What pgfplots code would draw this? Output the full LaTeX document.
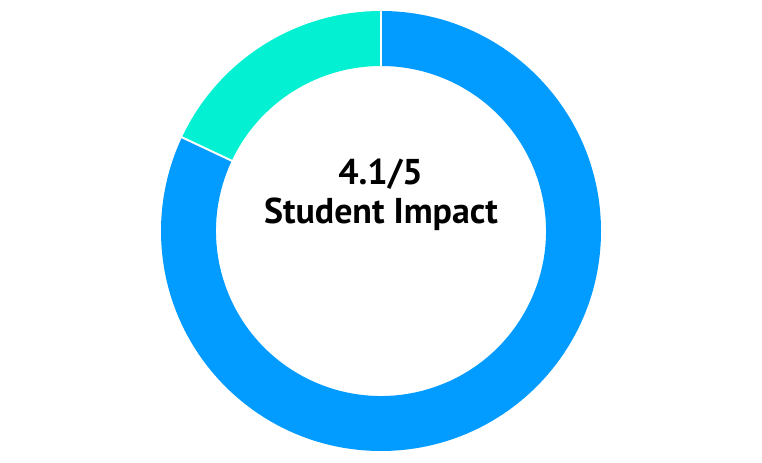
\documentclass[border=0pt]{standalone}
\usepackage{pgfplots}
\pgfplotsset{compat=1.18}
\usepackage{pgfplotstable}
\usepackage{fontspec}
\setmainfont{PT Sans}
\usetikzlibrary{calc}

\definecolor{ringblue}{RGB}{2,155,255}
\definecolor{ringteal}{RGB}{3,240,210}

% score out of 5: impact, remainder
\pgfplotstableread{
part value
Impact 4.1
Rest 0.9
}\ratings

\begin{document}
\begin{tikzpicture}
\pgfplotstablegetelem{0}{value}\of\ratings \let\vimpact\pgfplotsretval
\pgfplotstablegetelem{1}{value}\of\ratings \let\vrest\pgfplotsretval
\pgfmathsetmacro{\angend}{90-360*\vimpact/(\vimpact+\vrest)}
\begin{axis}[
    hide axis,
    scale only axis,
    width=762bp, height=463bp,
    xmin=0, xmax=762, ymin=0, ymax=463,
    clip=false,
  ]
  \path (axis cs:0,0) rectangle (axis cs:762,463);
  \coordinate (c) at (axis cs:381,232);
  % impact segment, clockwise from the top
  \fill[ringblue] ($(c)+(90:220bp)$) arc[start angle=90, end angle=\angend, radius=220bp]
    -- ($(c)+(\angend:165bp)$) arc[start angle=\angend, end angle=90, radius=165bp] -- cycle;
  % remainder
  \fill[ringteal] ($(c)+(\angend:220bp)$) arc[start angle=\angend, end angle=-270, radius=220bp]
    -- ($(c)+(90:165bp)$) arc[start angle=-270, end angle=\angend, radius=165bp] -- cycle;
  \draw[white, line width=2bp] ($(c)+(90:164bp)$) -- ($(c)+(90:221bp)$);
  \draw[white, line width=2bp] ($(c)+(\angend:164bp)$) -- ($(c)+(\angend:221bp)$);
  \node[anchor=base, inner sep=0pt, font=\fontsize{36}{40}\selectfont\bfseries] at (axis cs:380.5,278.5) {4.1/5};
  \node[anchor=base, inner sep=0pt, font=\fontsize{36}{40}\selectfont\bfseries] at (axis cs:381,239) {Student Impact};
\end{axis}
\end{tikzpicture}
\end{document}
